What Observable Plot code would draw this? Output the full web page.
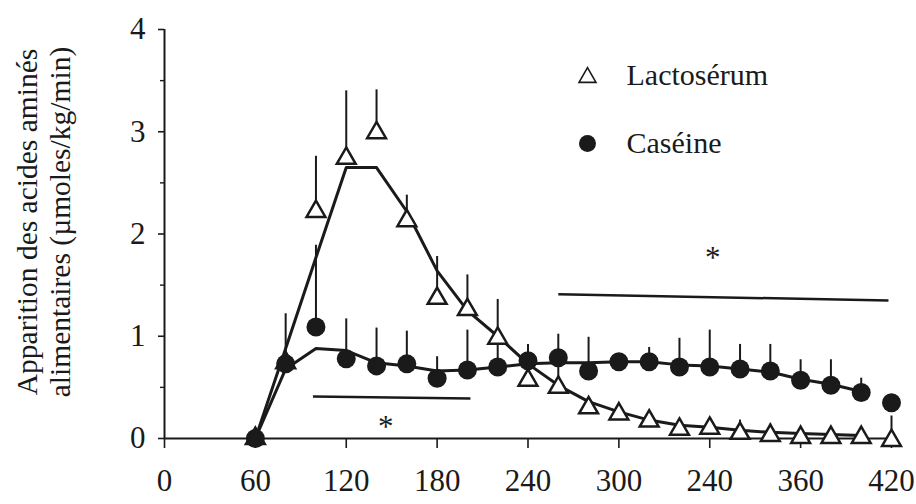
<!DOCTYPE html>
<html>
<head>
<meta charset="utf-8">
<script src="https://cdn.jsdelivr.net/npm/d3@7"></script>
<script src="https://cdn.jsdelivr.net/npm/@observablehq/plot@0.6"></script>
<style>
  html, body { margin: 0; padding: 0; background: #ffffff; }
  #chart { width: 916px; height: 504px; }
  #chart svg text { font-family: 'Liberation Serif', 'Times New Roman', serif; }
</style>
</head>
<body>
<div id="chart"></div>
<script>
// Sampling times (position on the printed axis, minutes)
const times = [60, 80, 100, 120, 140, 160, 180, 200, 220, 240, 260, 280, 300, 320, 340, 360, 380, 400, 420, 440, 460, 480];

// Lactosérum (open triangles): means and top of error bars
const lactoValues = [0, 0.74, 2.22, 2.74, 2.99, 2.13, 1.37, 1.26, 0.98, 0.57, 0.50, 0.30, 0.24, 0.17, 0.09, 0.10, 0.05, 0.03, 0.01, 0.01, 0.01, -0.02];
const lactoErrTop = [null, null, 2.76, 3.40, 3.41, 2.38, 1.78, 1.60, 1.36, 0.80, 0.72, null, null, null, null, null, 0.18, 0.14, null, null, null, 0.22];
// Lactosérum fitted curve (ends at 460)
const lactoFit = [0, 0.88, 1.77, 2.65, 2.65, 2.22, 1.64, 1.25, 1.00, 0.73, 0.52, 0.36, 0.26, 0.18, 0.13, 0.11, 0.08, 0.06, 0.05, 0.04, 0.03];

// Caséine (filled circles)
const caseineValues = [0, 0.73, 1.09, 0.78, 0.71, 0.73, 0.59, 0.67, 0.70, 0.76, 0.79, 0.66, 0.75, 0.75, 0.70, 0.70, 0.68, 0.66, 0.57, 0.52, 0.45, 0.35];
const caseineErrTop = [null, 1.22, 1.89, 1.17, 1.08, 1.05, 0.80, 1.06, 0.98, 0.92, 1.02, 0.99, null, 0.89, 0.98, 1.06, 0.92, 0.92, 0.77, 0.77, 0.59, null];
const caseineFit = [0, 0.68, 0.88, 0.86, 0.74, 0.71, 0.66, 0.67, 0.70, 0.73, 0.74, 0.74, 0.75, 0.75, 0.72, 0.71, 0.68, 0.65, 0.58, 0.53, 0.46];

// Significance bars and stars
const sigBarX1 = [98, 260];
const sigBarX2 = [202, 478];
const sigBarY1 = [0.41, 1.41];
const sigBarY2 = [0.39, 1.35];
const starX = [146, 362];
const starY = [0.16, 1.81];

// Axis ticks (labels as printed)
const xTickValues = [0, 60, 120, 180, 240, 300, 360, 420, 480];
const xTickLabels = ["0", "60", "120", "180", "240", "300", "240", "360", "420"];
const yTickValues = [0, 1, 2, 3, 4];
const yMinorTicks = [0.5, 1.5, 2.5, 3.5];

const seriesNames = ["Lactosérum", "Caséine"];
const yLabel = "Apparition des acides aminés\nalimentaires (µmoles/kg/min)";

// Build tables
const lacto = times.map((t, i) => ({t, v: lactoValues[i], e: lactoErrTop[i]}));
const caseine = times.map((t, i) => ({t, v: caseineValues[i], e: caseineErrTop[i]}));
const lactoLine = lactoFit.map((v, i) => ({t: times[i], v}));
const caseineLine = caseineFit.map((v, i) => ({t: times[i], v}));
const sigBars = sigBarX1.map((x1, i) => ({x1, x2: sigBarX2[i], y1: sigBarY1[i], y2: sigBarY2[i]}));
const stars = starX.map((x, i) => ({x, y: starY[i]}));

const ink = "#1a1a1a";
const font = "'Liberation Serif', 'Times New Roman', serif";

const chart = Plot.plot({
  width: 916,
  height: 504,
  marginLeft: 164,
  marginRight: 25,
  marginTop: 29,
  marginBottom: 66,
  x: {domain: [0, 480]},
  y: {domain: [0, 4]},
  style: {fontFamily: font, fontSize: "30px", color: ink, background: "#ffffff", overflow: "visible"},
  marks: [
    Plot.axisX({ticks: xTickValues, tickFormat: d => xTickLabels[xTickValues.indexOf(d)], tickSize: 10, tickPadding: 20, label: null, fontSize: 31, fontFamily: font, strokeWidth: 1.6}),
    Plot.axisY({ticks: yTickValues, tickFormat: d => String(d), tickSize: 6, tickPadding: 13, label: null, fontSize: 31, fontFamily: font, strokeWidth: 1.6}),
    Plot.axisY({ticks: yMinorTicks, tickFormat: () => "", tickSize: 4, label: null, strokeWidth: 1.4}),
    Plot.ruleX([0], {stroke: ink, strokeWidth: 2}),
    Plot.ruleY([0], {stroke: ink, strokeWidth: 2}),
    // significance bars
    Plot.link(sigBars, {x1: "x1", x2: "x2", y1: "y1", y2: "y2", stroke: ink, strokeWidth: 2.5}),
    Plot.text(stars, {x: "x", y: "y", text: () => "*", fontSize: 31, fontFamily: font, dy: 5, fill: ink}),
    // fitted curves
    Plot.line(lactoLine, {x: "t", y: "v", stroke: ink, strokeWidth: 3}),
    Plot.line(caseineLine, {x: "t", y: "v", stroke: ink, strokeWidth: 3}),
    // error bars (upward only)
    Plot.ruleX(lacto.filter(d => d.e != null), {x: "t", y1: "v", y2: "e", stroke: ink, strokeWidth: 2}),
    Plot.ruleX(caseine.filter(d => d.e != null), {x: "t", y1: "v", y2: "e", stroke: ink, strokeWidth: 2}),
    // points
    Plot.dot(lacto, {x: "t", y: "v", symbol: "triangle", r: 7, fill: "#ffffff", stroke: ink, strokeWidth: 2.5}),
    Plot.dot(caseine, {x: "t", y: "v", symbol: "circle", r: 9.5, fill: ink, stroke: "none"}),
    // legend
    Plot.dot([seriesNames[0]], {frameAnchor: "top-left", dx: 423, dy: 48, symbol: "triangle", r: 6.3, fill: "none", stroke: ink, strokeWidth: 1.6}),
    Plot.dot([seriesNames[1]], {frameAnchor: "top-left", dx: 423, dy: 114, symbol: "circle", r: 8.5, fill: ink, stroke: "none"}),
    Plot.text([seriesNames[0]], {frameAnchor: "top-left", dx: 462, dy: 46, textAnchor: "start", lineAnchor: "middle", fontSize: 30, fontFamily: font, fill: ink}),
    Plot.text([seriesNames[1]], {frameAnchor: "top-left", dx: 462, dy: 114, textAnchor: "start", lineAnchor: "middle", fontSize: 30, fontFamily: font, fill: ink}),
    // y label
    Plot.text([yLabel], {frameAnchor: "left", dx: -122, dy: -12, rotate: -90, textAnchor: "middle", lineAnchor: "middle", lineHeight: 1.12, fontSize: 29.5, fontFamily: font, fill: ink})
  ]
});

document.getElementById("chart").appendChild(chart);
</script>
</body>
</html>
